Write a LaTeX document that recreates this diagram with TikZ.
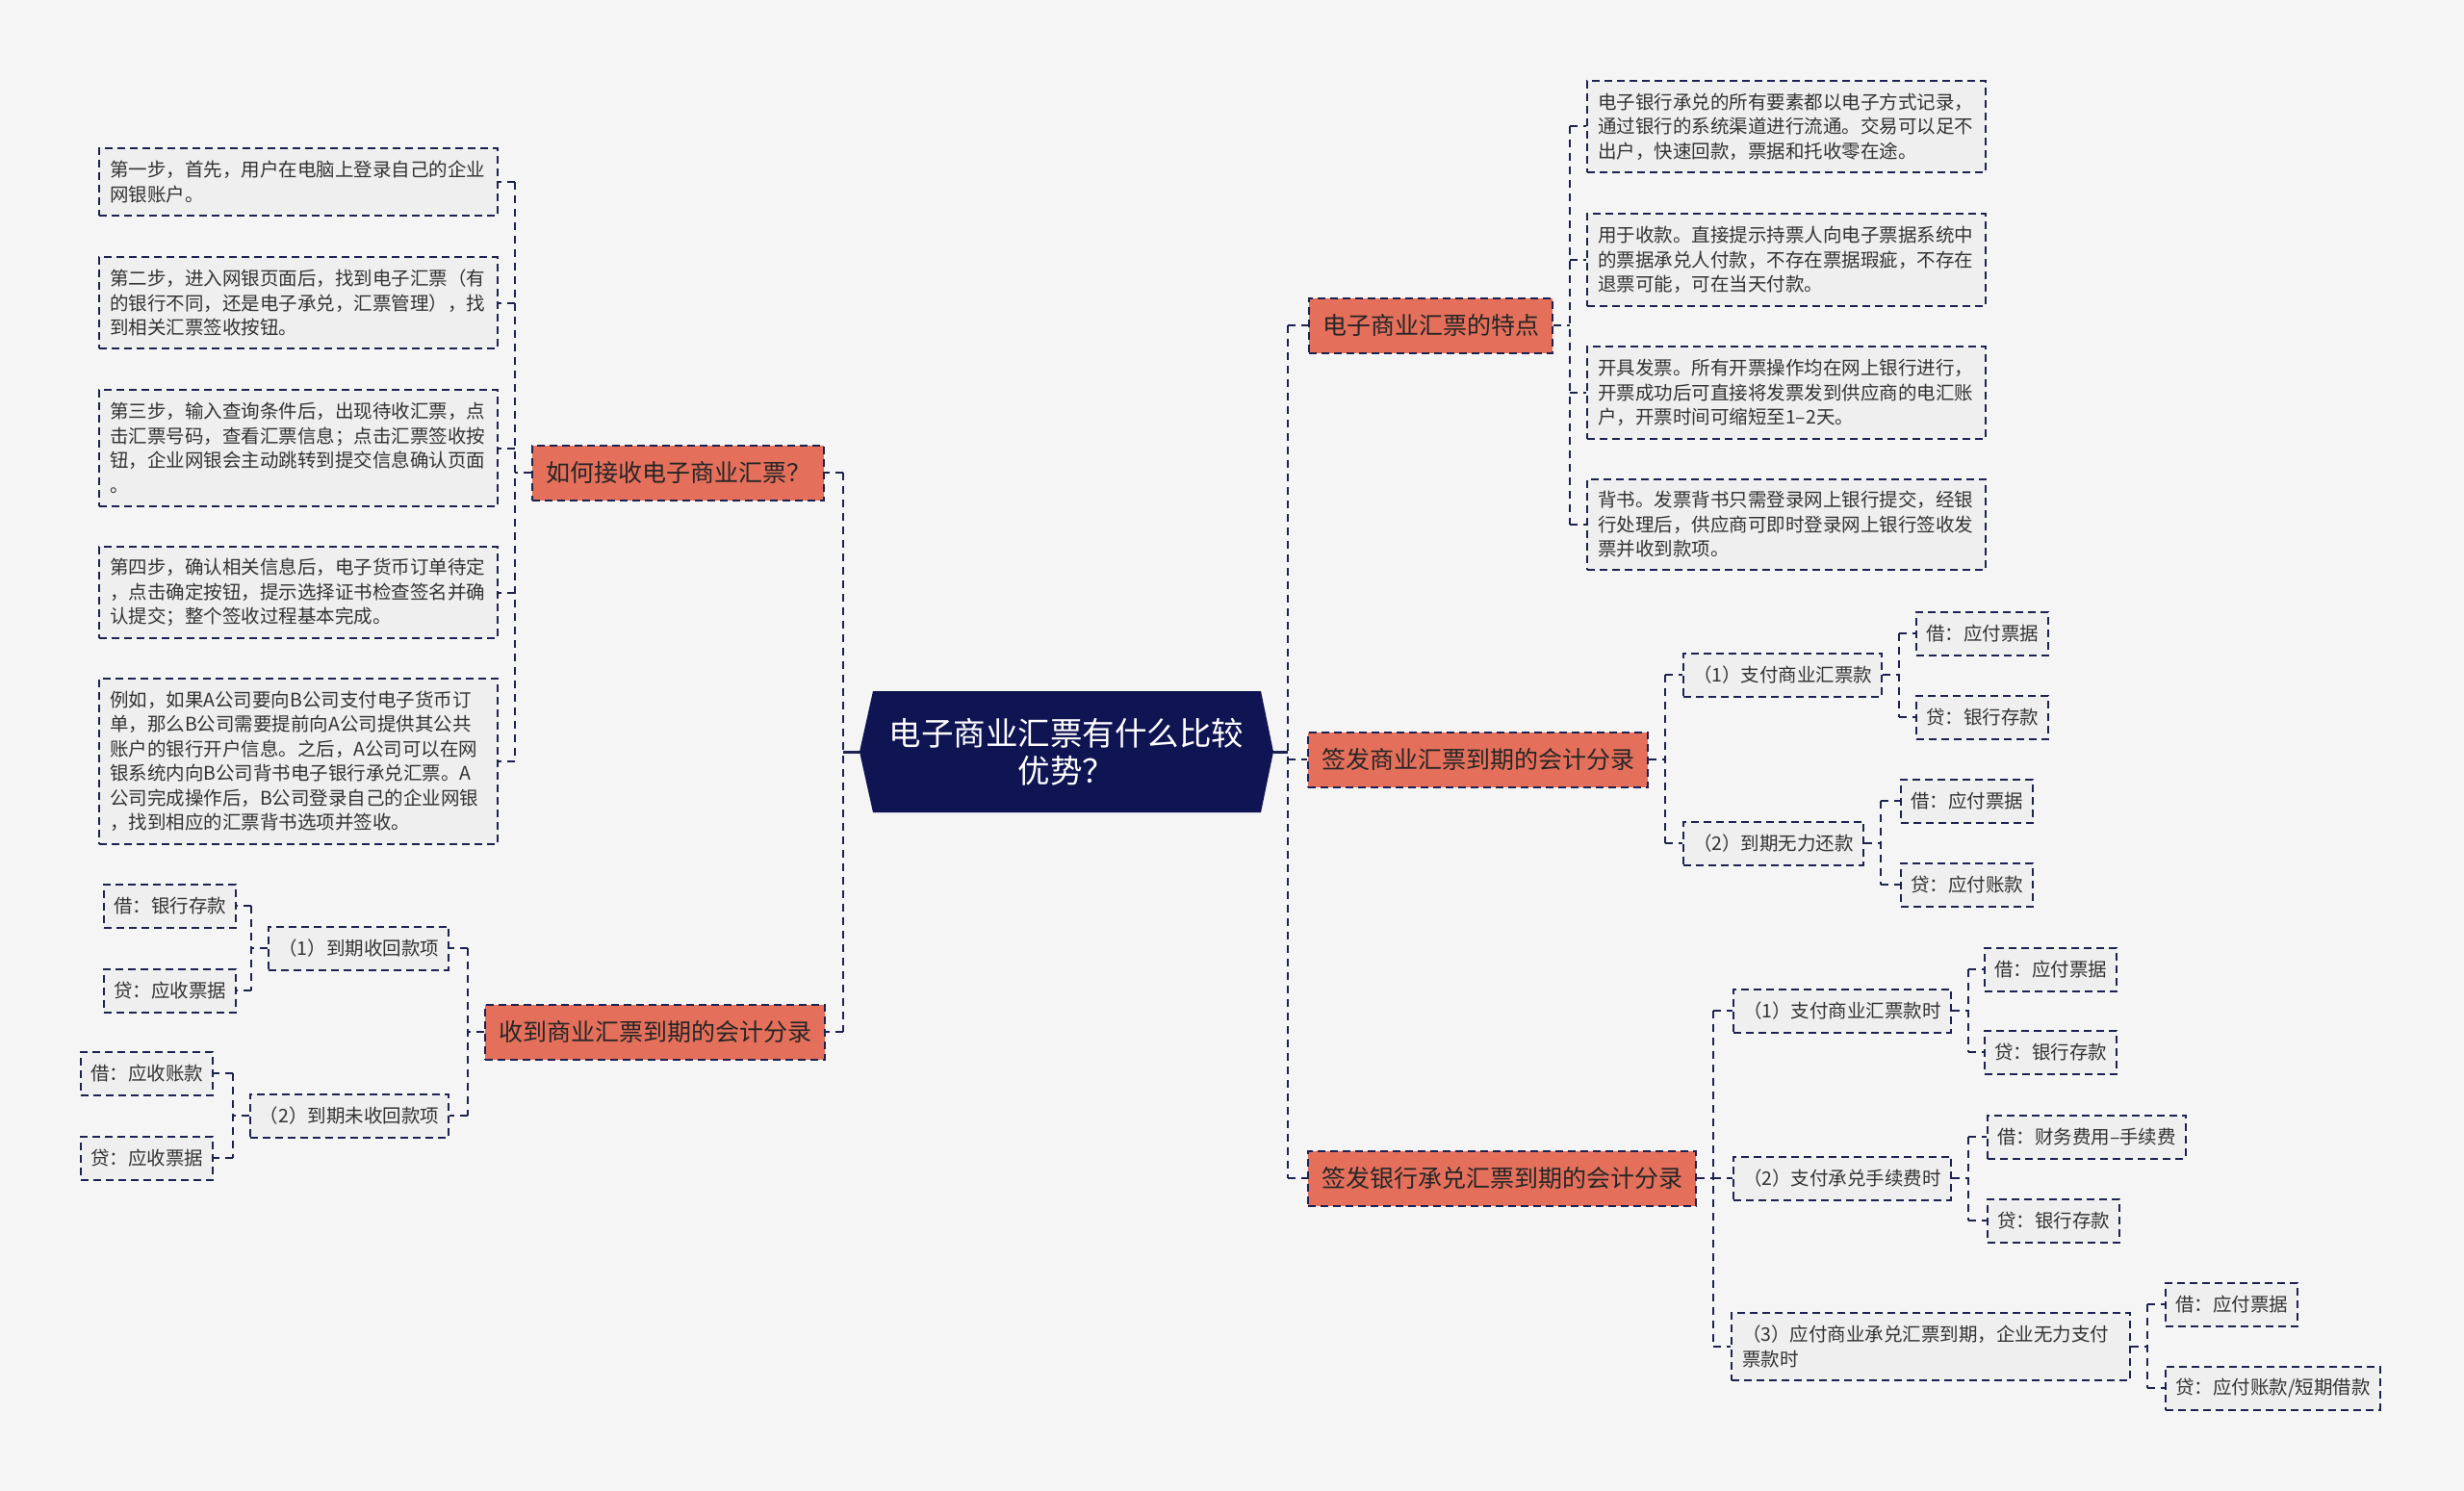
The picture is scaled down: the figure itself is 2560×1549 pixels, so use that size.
\documentclass[tikz,border=0pt]{standalone}
\usepackage{fontspec}
\setmainfont{Noto Sans CJK SC}
\usetikzlibrary{calc}
\definecolor{bgc}{HTML}{F5F5F5}
\definecolor{leaffill}{HTML}{EFEFEF}
\definecolor{topfill}{HTML}{E46F5B}
\definecolor{rootfill}{HTML}{0F1453}
\definecolor{linec}{HTML}{1E2250}
\definecolor{txt}{HTML}{333333}
\tikzset{
  conn/.style={draw=linec, line width=2pt, dash pattern=on 8pt off 6pt},
  rootline/.style={draw=linec, line width=3pt},
  box/.style={draw=linec, line width=2pt, dash pattern=on 8pt off 5pt, text=txt, inner ysep=0pt},
  topic/.style={box, fill=topfill, inner xsep=14pt, minimum height=57pt, font=\fontsize{25}{30}\selectfont, text=black!85},
  leaf/.style={box, fill=leaffill, inner xsep=10pt, minimum height=45pt, font=\fontsize{19.5}{25.5}\selectfont},
  para/.style={leaf, inner xsep=11pt, text width=392pt, align=left},
}
% parent, first child, last child, all children (children to the left)
\newcommand\brL[4]{%
  \coordinate (#1j) at ($(#1.west)+(-17,0)$);
  \draw[conn] (#1.west) -- (#1j);
  \draw[conn] (#1j|-#2.east) -- (#1j|-#3.east);
  \foreach \c in {#4} {\draw[conn] (#1j|-\c.east) -- (\c.east);}
}
% children to the right
\newcommand\brR[4]{%
  \coordinate (#1j) at ($(#1.east)+(17,0)$);
  \draw[conn] (#1.east) -- (#1j);
  \draw[conn] (#1j|-#2.west) -- (#1j|-#3.west);
  \foreach \c in {#4} {\draw[conn] (#1j|-\c.west) -- (\c.west);}
}
\begin{document}
\begin{tikzpicture}[x=1pt, y=-1pt]
\useasboundingbox (0,0) rectangle (2560,1549);
\fill[bgc] (0,0) rectangle (2560,1549);

% root
\fill[rootfill] (893,781) -- (907,718) -- (1310,718) -- (1323,781) -- (1310,844) -- (907,844) -- cycle;
\node[minimum width=430pt, minimum height=126pt, inner sep=0pt, align=center, text=white,
      font=\fontsize{33.5}{39}\selectfont] (root) at (1108,781) {电子商业汇票有什么比较\\优势？};

% ---------- left: topic A ----------
\node[topic, anchor=east] (A) at (857,491) {如何接收电子商业汇票？};
\node[para, anchor=east, minimum height=70pt] (A1) at (518,189)
  {第一步，首先，用户在电脑上登录自己的企业\\网银账户。};
\node[para, anchor=east, minimum height=95pt] (A2) at (518,314.5)
  {第二步，进入网银页面后，找到电子汇票（有\\的银行不同，还是电子承兑，汇票管理），找\\到相关汇票签收按钮。};
\node[para, anchor=east, minimum height=121pt] (A3) at (518,465.5)
  {第三步，输入查询条件后，出现待收汇票，点\\击汇票号码，查看汇票信息；点击汇票签收按\\钮，企业网银会主动跳转到提交信息确认页面\\。};
\node[para, anchor=east, minimum height=95pt] (A4) at (518,615.5)
  {第四步，确认相关信息后，电子货币订单待定\\，点击确定按钮，提示选择证书检查签名并确\\认提交；整个签收过程基本完成。};
\node[para, anchor=east, minimum height=172pt] (A5) at (518,791)
  {例如，如果A公司要向B公司支付电子货币订\\单，那么B公司需要提前向A公司提供其公共\\账户的银行开户信息。之后，A公司可以在网\\银系统内向B公司背书电子银行承兑汇票。A\\公司完成操作后，B公司登录自己的企业网银\\，找到相应的汇票背书选项并签收。};
\brL{A}{A1}{A5}{A1,A2,A3,A4,A5}

% ---------- left: topic B ----------
\node[topic, anchor=east] (B) at (858,1072) {收到商业汇票到期的会计分录};
\node[leaf, anchor=east] (B1) at (467,985) {（1）到期收回款项};
\node[leaf, anchor=east] (B2) at (467,1159) {（2）到期未收回款项};
\node[leaf, anchor=east] (B11) at (246,941) {借：银行存款};
\node[leaf, anchor=east] (B12) at (246,1029) {贷：应收票据};
\node[leaf, anchor=east] (B21) at (222,1115) {借：应收账款};
\node[leaf, anchor=east] (B22) at (222,1203) {贷：应收票据};
\brL{B}{B1}{B2}{B1,B2}
\brL{B1}{B11}{B12}{B11,B12}
\brL{B2}{B21}{B22}{B21,B22}

% ---------- right: topic C ----------
\node[topic, anchor=west] (C) at (1359,338) {电子商业汇票的特点};
\node[para, anchor=west, minimum height=95pt] (C1) at (1648,131.5)
  {电子银行承兑的所有要素都以电子方式记录，\\通过银行的系统渠道进行流通。交易可以足不\\出户，快速回款，票据和托收零在途。};
\node[para, anchor=west, minimum height=96pt] (C2) at (1648,270)
  {用于收款。直接提示持票人向电子票据系统中\\的票据承兑人付款，不存在票据瑕疵，不存在\\退票可能，可在当天付款。};
\node[para, anchor=west, minimum height=96pt] (C3) at (1648,408)
  {开具发票。所有开票操作均在网上银行进行，\\开票成功后可直接将发票发到供应商的电汇账\\户，开票时间可缩短至1–2天。};
\node[para, anchor=west, minimum height=94pt] (C4) at (1648,545)
  {背书。发票背书只需登录网上银行提交，经银\\行处理后，供应商可即时登录网上银行签收发\\票并收到款项。};
\brR{C}{C1}{C4}{C1,C2,C3,C4}

% ---------- right: topic D ----------
\node[topic, anchor=west] (D) at (1358,789) {签发商业汇票到期的会计分录};
\node[leaf, anchor=west] (D1) at (1748,701) {（1）支付商业汇票款};
\node[leaf, anchor=west] (D2) at (1748,876) {（2）到期无力还款};
\node[leaf, anchor=west] (D11) at (1990,658) {借：应付票据};
\node[leaf, anchor=west] (D12) at (1990,745) {贷：银行存款};
\node[leaf, anchor=west] (D21) at (1974,832) {借：应付票据};
\node[leaf, anchor=west] (D22) at (1974,919) {贷：应付账款};
\brR{D}{D1}{D2}{D1,D2}
\brR{D1}{D11}{D12}{D11,D12}
\brR{D2}{D21}{D22}{D21,D22}

% ---------- right: topic E ----------
\node[topic, anchor=west] (E) at (1358,1224) {签发银行承兑汇票到期的会计分录};
\node[leaf, anchor=west] (E1) at (1800,1050) {（1）支付商业汇票款时};
\node[leaf, anchor=west] (E2) at (1800,1224) {（2）支付承兑手续费时};
\node[para, anchor=west, minimum height=70pt] (E3) at (1798,1399)
  {（3）应付商业承兑汇票到期，企业无力支付\\票款时};
\node[leaf, anchor=west] (E11) at (2061,1007) {借：应付票据};
\node[leaf, anchor=west] (E12) at (2061,1093) {贷：银行存款};
\node[leaf, anchor=west] (E21) at (2064,1181) {借：财务费用–手续费};
\node[leaf, anchor=west] (E22) at (2064,1268) {贷：银行存款};
\node[leaf, anchor=west] (E31) at (2249,1355) {借：应付票据};
\node[leaf, anchor=west] (E32) at (2249,1442) {贷：应付账款/短期借款};
\brR{E}{E1}{E3}{E1,E2,E3}
\brR{E1}{E11}{E12}{E11,E12}
\brR{E2}{E21}{E22}{E21,E22}
\brR{E3}{E31}{E32}{E31,E32}

% ---------- root connectors ----------
\coordinate (rl) at ($(root.west)+(-17,0)$);
\coordinate (rr) at ($(root.east)+(15,0)$);
\draw[rootline] (root.west) -- (rl);
\draw[rootline] (root.east) -- (rr);
\draw[conn] (rl|-A.east) -- (rl|-B.east);
\foreach \c in {A,B} {\draw[conn] (rl|-\c.east) -- (\c.east);}
\draw[conn] (rr|-C.west) -- (rr|-E.west);
\foreach \c in {C,D,E} {\draw[conn] (rr|-\c.west) -- (\c.west);}
\end{tikzpicture}
\end{document}
